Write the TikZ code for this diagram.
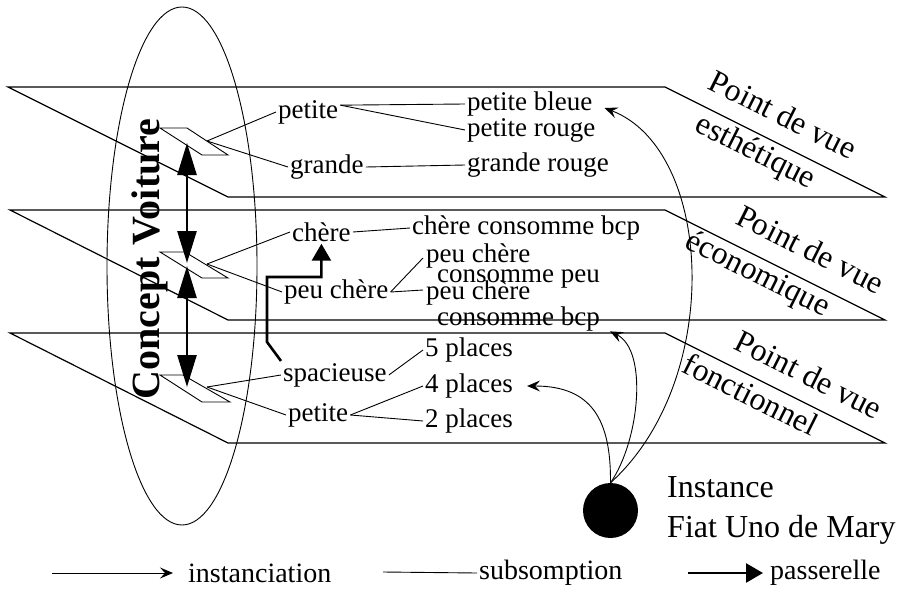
\documentclass[tikz,border=0pt]{standalone}
\usepackage{fontspec}
\setmainfont{Liberation Serif}
\usetikzlibrary{arrows.meta,shapes.geometric,calc}

\begin{document}
\begin{tikzpicture}[x=1pt, y=-1pt,
		node_style/.style={anchor=west,inner sep=2pt,font=\fontsize{27}{29}\selectfont},
		pair_style/.style={anchor=north west,inner sep=0pt,align=left,font=\fontsize{27}{16}\selectfont},
		view_style/.style={inner sep=0pt,align=left,rotate=-26.6,font=\fontsize{32}{44}\selectfont},
		legend_style/.style={anchor=west,inner sep=2pt,font=\fontsize{28}{30}\selectfont},
		plane_style/.style={draw=black,line width=1.2pt},
		edge_style/.style={draw=black,line width=0.9pt},
		inst_style/.style={draw=black,line width=0.9pt,-{Stealth[length=13pt,width=11pt,inset=5pt]}},
		pass_style/.style={draw=black,line width=2.6pt,-{Triangle[length=17pt,width=19pt]}},
		concept_style/.style={draw=black,line width=2.6pt,{Triangle[length=32pt,width=19pt]}-{Triangle[length=32pt,width=19pt]}}]

		\useasboundingbox (0,0) rectangle (902,594);

		% les trois plans
		\draw[plane_style] (8,87) -- (665,87) -- (885,197) -- (228,197) -- cycle;
		\draw[plane_style] (10,210) -- (665,210) -- (885,320) -- (228,320) -- cycle;
		\draw[plane_style] (10,333) -- (665,333) -- (885,443) -- (228,443) -- cycle;

		% le concept
		\node[draw=black,line width=0.9pt,ellipse,inner sep=0pt,minimum width=150pt,minimum height=518pt] (n0) at (182,266) {};
		\node[rotate=90,inner sep=0pt,font=\fontsize{40}{42}\selectfont\bfseries] (n1) at (150,259) {Concept\hspace{0.3em}Voiture};

		\draw[edge_style] (160,128) -- (187,128) -- (228,155) -- (202,155) -- cycle;
		\draw[edge_style] (160,252) -- (185,252) -- (228,278) -- (202,278) -- cycle;
		\draw[edge_style] (160,375) -- (183,375) -- (230,402) -- (202,402) -- cycle;
		\coordinate (c1) at (207,141);
		\coordinate (c2) at (207,264);
		\coordinate (c3) at (207,387);
		\coordinate (a1) at (187,143);
		\coordinate (a2) at (187,263);
		\coordinate (a3) at (187,266);
		\coordinate (a4) at (187,387);
		\draw[concept_style] (a1) -- (a2);
		\draw[concept_style] (a3) -- (a4);

		% point de vue esthetique
		\node[node_style] (n2) at (276,112) {petite};
		\node[node_style] (n3) at (288,167) {grande};
		\node[node_style] (n4) at (465,104) {petite bleue};
		\node[node_style] (n5) at (465,130) {petite rouge};
		\node[node_style] (n6) at (465,165) {grande rouge};

		% point de vue economique
		\node[node_style] (n7) at (290,232) {chère};
		\node[node_style] (n8) at (410,228) {chère consomme bcp};
		\node[node_style] (n9) at (282,292) {peu chère};
		\node[pair_style] (n10) at (426,244) {peu chère\\\hspace{11pt}consomme peu};
		\node[pair_style] (n11) at (426,281) {peu chère\\\hspace{11pt}consomme bcp};

		% point de vue fonctionnel
		\node[node_style] (n12) at (281,375) {spacieuse};
		\node[node_style] (n13) at (286,415) {petite};
		\node[node_style] (n14) at (423,350) {5 places};
		\node[node_style] (n15) at (423,386) {4 places};
		\node[node_style] (n16) at (423,421) {2 places};

		\node[view_style] (n17) at (772,137) {Point de vue\\\hspace{7pt}esthétique};
		\node[view_style] (n18) at (784,264) {\hspace{34pt}Point de vue\\économique};
		\node[view_style] (n19) at (783,386) {\hspace{36pt}Point de vue\\fonctionnel};

		% instance
		\node[circle,fill=black,inner sep=0pt,minimum size=55pt] (n20) at (610.5,510.5) {};
		\node[anchor=west,inner sep=0pt,align=left,font=\fontsize{32}{40}\selectfont] (n21) at (667,510) {Instance\\Fiat Uno de Mary};

		% subsomption
		\draw[edge_style] (c1) -- (n2.west);
		\draw[edge_style] (c1) -- (n3.west);
		\draw[edge_style] (n2.12) -- (n4.west);
		\draw[edge_style] (n2.12) -- (n5.west);
		\draw[edge_style] (n3.east) -- (n6.west);
		\draw[edge_style] (c2) -- (n7.west);
		\draw[edge_style] (c2) -- (n9.west);
		\draw[edge_style] (n7.east) -- (n8.west);
		\draw[edge_style] (n9.east) -- ([xshift=-3pt,yshift=-14pt]n10.north west);
		\draw[edge_style] (n9.east) -- ([xshift=-3pt,yshift=-9pt]n11.north west);
		\draw[edge_style] (c3) -- (n12.west);
		\draw[edge_style] (c3) -- (n13.west);
		\draw[edge_style] (n12.east) -- (n14.west);
		\draw[edge_style] (n13.east) -- (n15.west);
		\draw[edge_style] (n13.east) -- (n16.west);

		% passerelle
		\draw[pass_style] (n12.north west) -- ++(-14,-19) -- ++(0,-65) -| (n7.south);

		% instanciation
		\draw[inst_style] (n20.north) .. controls (611,420) and (592,386) .. ([xshift=12pt]n15.east);
		\draw[inst_style] (n20.north) .. controls (640,440) and (648,350) .. ([xshift=10pt]n11.south east);
		\draw[inst_style] (n20.north) .. controls (724,380) and (714,150) .. ([xshift=10pt,yshift=-4pt]n4.east);

		% legende
		\coordinate (l1) at (52,573);
		\coordinate (l2) at (383,572);
		\coordinate (l3) at (688,573);
		\node[legend_style] (n22) at (186,573) {instanciation};
		\node[legend_style] (n23) at (477,573) {subsomption};
		\node[legend_style] (n24) at (768,573) {passerelle};
		\draw[inst_style,shorten >=13pt] (l1) -- (n22.west);
		\draw[edge_style] (l2) -- (n23.west);
		\draw[pass_style,shorten >=5pt] (l3) -- (n24.west);
\end{tikzpicture}
\end{document}
